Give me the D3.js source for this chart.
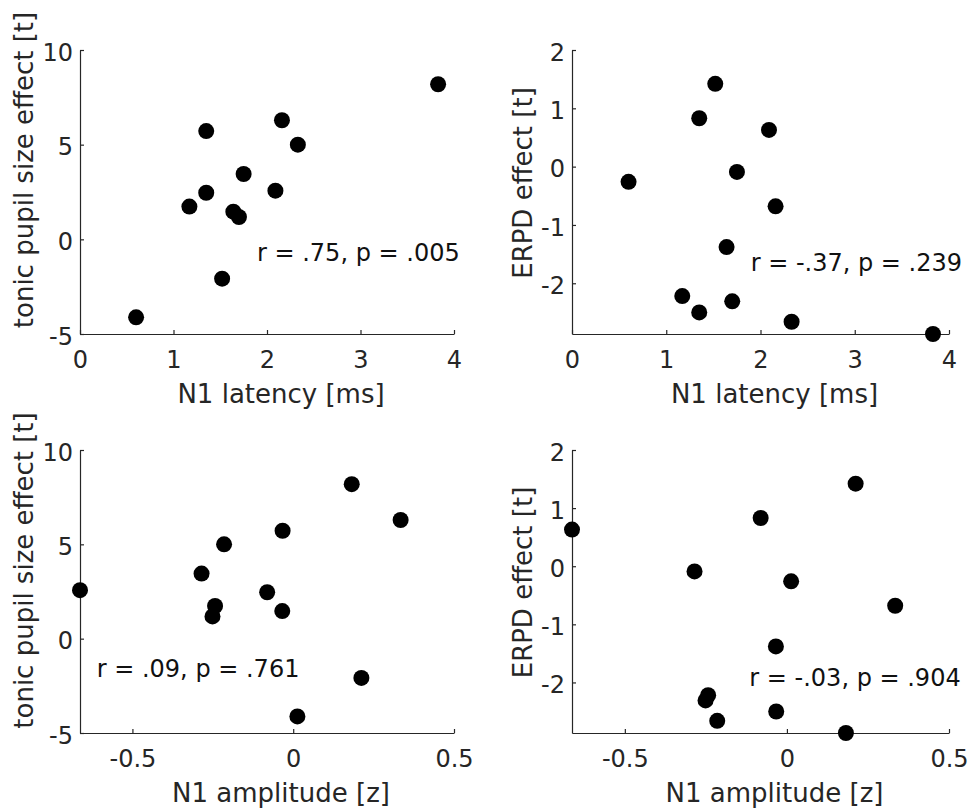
<!DOCTYPE html>
<html>
<head>
<meta charset="utf-8">
<script src="https://cdn.jsdelivr.net/npm/d3@7"></script>
<style>
  html, body { margin: 0; padding: 0; background: #fff; }
  svg { display: block; font-family: "DejaVu Sans", sans-serif; }
</style>
</head>
<body>
<svg id="chart" width="971" height="810"></svg>
<script>
// ---- data (one entry per participant) ----
const latency   = [3.83, 2.16, 1.35, 2.33, 1.75, 1.35, 2.09, 1.17, 1.64, 1.70, 1.52, 0.60];
const amplitude = [0.182, 0.334, -0.033, -0.215, -0.285, -0.081, -0.663, -0.243, -0.034, -0.251, 0.212, 0.013];
const pupil     = [8.19, 6.29, 5.72, 5.00, 3.45, 2.46, 2.57, 1.73, 1.46, 1.18, -2.08, -4.12];
const erpd      = [-2.87, -0.68, -2.50, -2.66, -0.09, 0.83, 0.63, -2.22, -1.38, -2.31, 1.42, -0.26];

const latencyTicks   = [0, 1, 2, 3, 4];
const amplitudeTicks = [-0.5, 0, 0.5];
const pupilTicks     = [-5, 0, 5, 10];
const erpdTicks      = [-2, -1, 0, 1, 2];

const xLabels = ["N1 latency [ms]", "N1 latency [ms]", "N1 amplitude [z]", "N1 amplitude [z]"];
const yLabels = ["tonic pupil size effect [t]", "ERPD effect [t]", "tonic pupil size effect [t]", "ERPD effect [t]"];
const statTexts = ["r = .75, p = .005", "r = -.37, p = .239", "r = .09, p = .761", "r = -.03, p = .904"];
// annotation anchor positions in data coordinates
const statX = [1.893, 1.896, -0.611, -0.116];
const statY = [-1.14, -1.79, -2.03, -2.06];

// ---- layout ----
const panels = [
  { xs: latency,   ys: pupil, xTicks: latencyTicks,   yTicks: pupilTicks, xDom: [0, 4],                    yDom: [-5, 10],          left: 80,  top: 50,  w: 374, h: 284, ylX: -47, ylShift: -22 },
  { xs: latency,   ys: erpd,  xTicks: latencyTicks,   yTicks: erpdTicks,  xDom: [0, 4],                    yDom: [d3.min(erpd), 2], left: 572, top: 50,  w: 377, h: 284, ylX: -40, ylShift: -9 },
  { xs: amplitude, ys: pupil, xTicks: amplitudeTicks, yTicks: pupilTicks, xDom: [d3.min(amplitude), 0.5], yDom: [-5, 10],          left: 80,  top: 450, w: 374, h: 283, ylX: -47, ylShift: -21 },
  { xs: amplitude, ys: erpd,  xTicks: amplitudeTicks, yTicks: erpdTicks,  xDom: [d3.min(amplitude), 0.5], yDom: [d3.min(erpd), 2], left: 572, top: 450, w: 377, h: 283, ylX: -40, ylShift: -9 }
];

const svg = d3.select("#chart");
const axisColor = "#262626";
const tickFont = 24, labelFont = 26, statFont = 24;

panels.forEach((p, i) => {
  const g = svg.append("g").attr("transform", `translate(${p.left},${p.top})`);
  const x = d3.scaleLinear().domain(p.xDom).range([0, p.w]);
  const y = d3.scaleLinear().domain(p.yDom).range([p.h, 0]);

  // x axis (ticks pointing inward)
  const xAxis = d3.axisBottom(x).tickValues(p.xTicks).tickFormat(d => String(d))
    .tickSizeInner(-4).tickSizeOuter(0).tickPadding(12);
  const gx = g.append("g").attr("transform", `translate(0,${p.h})`).call(xAxis);
  gx.select(".domain").attr("stroke", axisColor).attr("stroke-width", 1.2);
  gx.selectAll(".tick line").attr("stroke", axisColor).attr("stroke-width", 1.2);
  gx.selectAll(".tick text").attr("fill", axisColor).attr("font-size", tickFont)
    .attr("font-family", "DejaVu Sans").attr("dy", "0.9em");

  // y axis (ticks pointing inward)
  const yAxis = d3.axisLeft(y).tickValues(p.yTicks).tickFormat(d => String(d))
    .tickSizeInner(-4).tickSizeOuter(0).tickPadding(7);
  const gy = g.append("g").call(yAxis);
  gy.select(".domain").attr("stroke", axisColor).attr("stroke-width", 1.2);
  gy.selectAll(".tick line").attr("stroke", axisColor).attr("stroke-width", 1.2);
  gy.selectAll(".tick text").attr("fill", axisColor).attr("font-size", tickFont)
    .attr("font-family", "DejaVu Sans").attr("dy", "0.42em");

  // axis labels
  g.append("text")
    .attr("x", p.w / 2 + 14).attr("y", p.h + 69)
    .attr("text-anchor", "middle")
    .attr("font-size", labelFont).attr("fill", axisColor)
    .text(xLabels[i]);
  g.append("text")
    .attr("transform", `translate(${p.ylX},${p.h / 2 + p.ylShift}) rotate(-90)`)
    .attr("text-anchor", "middle")
    .attr("font-size", labelFont).attr("fill", axisColor)
    .text(yLabels[i]);

  // points
  g.append("g").selectAll("circle")
    .data(p.xs.map((v, k) => [v, p.ys[k]]))
    .join("circle")
    .attr("cx", d => x(d[0]))
    .attr("cy", d => y(d[1]))
    .attr("r", 8)
    .attr("fill", "#000");

  // statistic annotation
  g.append("text")
    .attr("x", x(statX[i])).attr("y", y(statY[i]))
    .attr("font-size", statFont).attr("fill", "#111")
    .text(statTexts[i]);
});
</script>
</body>
</html>
